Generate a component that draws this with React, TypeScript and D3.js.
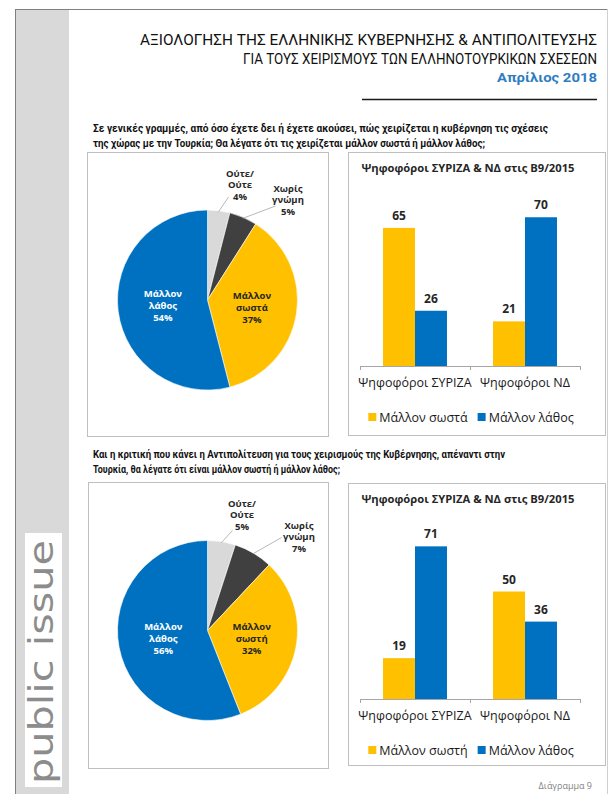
import React, { useEffect, useRef } from 'react';
import * as d3 from 'd3';

const FONT = "'Open Sans', 'Noto Sans', sans-serif";
const HEAD_FONT = "Roboto, 'Open Sans', sans-serif";
const YELLOW = '#ffc000';
const BLUE = '#0070c0';
const DARK = '#404040';
const LIGHT = '#d9d9d9';
const TEXT = '#262626';

// header texts
const titleLines = [
  'ΑΞΙΟΛΟΓΗΣΗ ΤΗΣ ΕΛΛΗΝΙΚΗΣ ΚΥΒΕΡΝΗΣΗΣ & ΑΝΤΙΠΟΛΙΤΕΥΣΗΣ',
  'ΓΙΑ ΤΟΥΣ ΧΕΙΡΙΣΜΟΥΣ ΤΩΝ ΕΛΛΗΝΟΤΟΥΡΚΙΚΩΝ ΣΧΕΣΕΩΝ',
];
const titleWidths = [457, 354];
const subtitle = 'Απρίλιος 2018';

const question1 = [
  'Σε γενικές γραμμές, από όσο έχετε δει ή έχετε ακούσει, πώς χειρίζεται η κυβέρνηση τις σχέσεις',
  'της χώρας με την Τουρκία; Θα λέγατε ότι τις χειρίζεται μάλλον σωστά ή μάλλον λάθος;',
];
const question1Widths = [455, 392];
const question2 = [
  'Και η κριτική που κάνει η Αντιπολίτευση για τους χειρισμούς της Κυβέρνησης, απέναντι στην',
  'Τουρκία, θα λέγατε ότι είναι μάλλον σωστή ή μάλλον λάθος;',
];
const question2Widths = [412, 247];

// pie data
const pieColors = [LIGHT, DARK, YELLOW, BLUE];
const pie1Labels = [['Ούτε/', 'Ούτε'], ['Χωρίς', 'γνώμη'], ['Μάλλον', 'σωστά'], ['Μάλλον', 'λάθος']];
const pie1Values = [4, 5, 37, 54];
const pie2Labels = [['Ούτε/', 'Ούτε'], ['Χωρίς', 'γνώμη'], ['Μάλλον', 'σωστή'], ['Μάλλον', 'λάθος']];
const pie2Values = [5, 7, 32, 56];

// bar data
const barTitle = 'Ψηφοφόροι ΣΥΡΙΖΑ & ΝΔ στις Β9/2015';
const barGroups = ['Ψηφοφόροι ΣΥΡΙΖΑ', 'Ψηφοφόροι ΝΔ'];
const bar1Series = ['Μάλλον σωστά', 'Μάλλον λάθος'];
const bar1Right = [65, 21];
const bar1Wrong = [26, 70];
const bar2Series = ['Μάλλον σωστή', 'Μάλλον λάθος'];
const bar2Right = [19, 50];
const bar2Wrong = [71, 36];

type Box = { x: number; y: number; w: number; h: number };
type Outside = { lx: number; ly: number; ex: number; ey: number };

function drawPie(
  svg: d3.Selection<SVGSVGElement, unknown, null, undefined>,
  box: Box,
  cx: number,
  cy: number,
  r: number,
  values: number[],
  labels: string[][],
  outside: Outside[]
) {
  const g = svg.append('g');
  g.append('rect')
    .attr('x', box.x + 0.5).attr('y', box.y + 0.5)
    .attr('width', box.w).attr('height', box.h)
    .attr('fill', '#fff').attr('stroke', '#bfbfbf');

  const pie = d3.pie<number>().sort(null).value(d => d);
  const arcs = pie(values);
  const arc = d3.arc<d3.PieArcDatum<number>>().innerRadius(0).outerRadius(r);
  const pg = g.append('g').attr('transform', `translate(${cx},${cy})`);

  pg.selectAll('path')
    .data(arcs)
    .enter()
    .append('path')
    .attr('d', arc)
    .attr('fill', (_, i) => pieColors[i])
    .attr('stroke', '#fff')
    .attr('stroke-width', 0.6);

  arcs.forEach((a, i) => {
    const lines = [...labels[i], `${values[i]}%`];
    if (i < 2) {
      const o = outside[i];
      const mid = (a.startAngle + a.endAngle) / 2;
      pg.append('line')
        .attr('x1', Math.sin(mid) * (r - 1)).attr('y1', -Math.cos(mid) * (r - 1))
        .attr('x2', o.ex).attr('y2', o.ey)
        .attr('stroke', '#a6a6a6').attr('stroke-width', 0.8);
      lines.forEach((t, k) => {
        pg.append('text')
          .attr('x', o.lx).attr('y', o.ly + k * 11.5)
          .attr('dominant-baseline', 'central')
          .attr('text-anchor', 'middle')
          .attr('font-family', FONT).attr('font-size', 9.5).attr('font-weight', 700)
          .attr('fill', TEXT)
          .text(t);
      });
    } else {
      const [mx, my] = arc.centroid(a);
      lines.forEach((t, k) => {
        pg.append('text')
          .attr('x', mx).attr('y', my + (k - 1) * 12)
          .attr('dominant-baseline', 'central')
          .attr('text-anchor', 'middle')
          .attr('font-family', FONT).attr('font-size', 9.5).attr('font-weight', 700)
          .attr('fill', i === 3 ? '#fff' : TEXT)
          .text(t);
      });
    }
  });
}

function drawBars(
  svg: d3.Selection<SVGSVGElement, unknown, null, undefined>,
  box: Box,
  axisOffset: number,
  series: string[],
  right: number[],
  wrong: number[]
) {
  const g = svg.append('g');
  g.append('rect')
    .attr('x', box.x + 0.5).attr('y', box.y + 0.5)
    .attr('width', box.w).attr('height', box.h)
    .attr('fill', '#fff').attr('stroke', '#bfbfbf');

  g.append('text')
    .attr('x', box.x + 120).attr('y', box.y + 20)
    .attr('text-anchor', 'middle')
    .attr('font-family', FONT).attr('font-size', 11).attr('font-weight', 700)
    .attr('fill', TEXT)
    .attr('textLength', 213).attr('lengthAdjust', 'spacingAndGlyphs')
    .text(barTitle);

  const axisY = box.y + axisOffset;
  const x0 = d3.scaleBand<string>().domain(barGroups).range([box.x + 12, box.x + 232]);
  const x1 = d3.scaleBand<string>().domain(series).range([0, x0.bandwidth()]).paddingOuter(0.72);
  const y = d3.scaleLinear().domain([0, 80]).range([axisY, box.y + 44]);
  const colors = d3.scaleOrdinal<string, string>().domain(series).range([YELLOW, BLUE]);

  const rows = barGroups.map((grp, i) => ({
    grp,
    vals: [
      { s: series[0], v: right[i] },
      { s: series[1], v: wrong[i] },
    ],
  }));

  const groups = g.selectAll('g.grp')
    .data(rows)
    .enter()
    .append('g')
    .attr('transform', d => `translate(${x0(d.grp)},0)`);

  groups.selectAll('rect')
    .data(d => d.vals)
    .enter()
    .append('rect')
    .attr('x', d => x1(d.s)!)
    .attr('y', d => y(d.v))
    .attr('width', x1.bandwidth())
    .attr('height', d => axisY - y(d.v))
    .attr('fill', d => colors(d.s));

  groups.selectAll('text')
    .data(d => d.vals)
    .enter()
    .append('text')
    .attr('x', d => x1(d.s)! + x1.bandwidth() / 2)
    .attr('y', d => y(d.v) - 8)
    .attr('text-anchor', 'middle')
    .attr('font-family', FONT).attr('font-size', 12).attr('font-weight', 700)
    .attr('fill', TEXT)
    .text(d => d.v);

  // axis
  const [a0, a1] = x0.range();
  g.append('line')
    .attr('x1', a0).attr('x2', a1).attr('y1', axisY + 0.5).attr('y2', axisY + 0.5)
    .attr('stroke', '#a6a6a6');
  const edges = [...barGroups.map(d => x0(d)!), a1];
  edges.forEach(e => {
    g.append('line')
      .attr('x1', e + 0.5).attr('x2', e + 0.5).attr('y1', axisY).attr('y2', axisY + 4)
      .attr('stroke', '#a6a6a6');
  });
  barGroups.forEach(grp => {
    g.append('text')
      .attr('x', x0(grp)! + x0.bandwidth() / 2).attr('y', axisY + 21)
      .attr('text-anchor', 'middle')
      .attr('font-family', FONT).attr('font-size', 12.5)
      .attr('fill', '#1a1a1a')
      .text(grp);
  });

  // legend
  const lg = g.append('g');
  let cursor = 0;
  series.forEach(s => {
    lg.append('rect')
      .attr('x', cursor).attr('y', -4).attr('width', 8).attr('height', 8)
      .attr('fill', colors(s));
    const t = lg.append('text')
      .attr('x', cursor + 11).attr('y', 0)
      .attr('dominant-baseline', 'central')
      .attr('font-family', FONT).attr('font-size', 12.5)
      .attr('fill', '#1a1a1a')
      .text(s);
    const w = (t.node() as SVGTextElement).getComputedTextLength();
    cursor += 11 + w + 10;
  });
  const total = cursor - 10;
  lg.attr('transform', `translate(${(a0 + a1) / 2 + 1 - total / 2},${axisY + 51})`);
}

const Page: React.FC = () => {
  const svgRef = useRef<SVGSVGElement>(null);

  useEffect(() => {
    const svg = d3.select(svgRef.current!);
    svg.selectAll('*').remove();

    svg.append('rect').attr('width', 614).attr('height', 794).attr('fill', '#fff');

    // side strip + frame
    svg.append('rect').attr('x', 16).attr('y', 10).attr('width', 53).attr('height', 784).attr('fill', '#d9d9d9');
    svg.append('line').attr('x1', 15).attr('x2', 608).attr('y1', 9.5).attr('y2', 9.5).attr('stroke', '#7f7f7f');
    svg.append('line').attr('x1', 15.5).attr('x2', 15.5).attr('y1', 9).attr('y2', 794).attr('stroke', '#7f7f7f');
    svg.append('line').attr('x1', 607.5).attr('x2', 607.5).attr('y1', 9).attr('y2', 794).attr('stroke', '#d0d0d0');

    svg.append('rect').attr('x', 25).attr('y', 533).attr('width', 37).attr('height', 254).attr('fill', '#fff');
    svg.append('text')
      .attr('transform', 'translate(53,784) rotate(-90)')
      .attr('font-family', "'DejaVu Sans', sans-serif").attr('font-size', 33)
      .attr('fill', '#8c8c8c')
      .attr('textLength', 244).attr('lengthAdjust', 'spacingAndGlyphs')
      .text('public issue');

    // header
    titleLines.forEach((t, i) => {
      svg.append('text')
        .attr('x', 597).attr('y', 45 + i * 19)
        .attr('text-anchor', 'end')
        .attr('font-family', HEAD_FONT).attr('font-size', 15).attr('font-weight', 400)
        .attr('fill', '#111')
        .attr('textLength', titleWidths[i]).attr('lengthAdjust', 'spacingAndGlyphs')
        .text(t);
    });
    svg.append('text')
      .attr('x', 597).attr('y', 82)
      .attr('text-anchor', 'end')
      .attr('font-family', HEAD_FONT).attr('font-size', 13.5).attr('font-weight', 700)
      .attr('fill', '#2e7dc1')
      .attr('textLength', 100).attr('lengthAdjust', 'spacingAndGlyphs')
      .text(subtitle);
    svg.append('line').attr('x1', 362).attr('x2', 597).attr('y1', 99.5).attr('y2', 99.5)
      .attr('stroke', '#1a1a1a').attr('stroke-width', 1.5);

    const drawQuestion = (lines: string[], widths: number[], y0: number) => {
      lines.forEach((t, i) => {
        svg.append('text')
          .attr('x', 93).attr('y', y0 + i * 15)
          .attr('font-family', HEAD_FONT).attr('font-size', 11.5).attr('font-weight', 700)
          .attr('fill', '#111')
          .attr('textLength', widths[i]).attr('lengthAdjust', 'spacingAndGlyphs')
          .text(t);
      });
    };
    drawQuestion(question1, question1Widths, 132);
    drawQuestion(question2, question2Widths, 458);

    drawPie(svg, { x: 87, y: 152, w: 241, h: 284 }, 207.5, 300, 90, pie1Values, pie1Labels, [
      { lx: 32.5, ly: -127, ex: 21, ey: -103 },
      { lx: 80.5, ly: -112, ex: 68, ey: -94 },
    ]);
    drawPie(svg, { x: 88, y: 482, w: 240, h: 286 }, 207.5, 630.5, 90, pie2Values, pie2Labels, [
      { lx: 34.5, ly: -127.5, ex: 25, ey: -100 },
      { lx: 91.5, ly: -105.5, ex: 74, ey: -93 },
    ]);

    drawBars(svg, { x: 348, y: 152, w: 257, h: 283 }, 214, bar1Series, bar1Right, bar1Wrong);
    drawBars(svg, { x: 348, y: 483, w: 257, h: 282 }, 216, bar2Series, bar2Right, bar2Wrong);

    svg.append('text')
      .attr('x', 592).attr('y', 789)
      .attr('text-anchor', 'end')
      .attr('font-family', FONT).attr('font-size', 9)
      .attr('fill', '#7f7f7f')
      .text('Διάγραμμα 9');
  }, []);

  return <svg ref={svgRef} width={614} height={794} style={{ display: 'block' }} />;
};

const App: React.FC = () => {
  return (
    <div style={{ position: 'absolute', left: 0, top: 0, width: 614, height: 794 }}>
      <Page />
    </div>
  );
};

export default App;
